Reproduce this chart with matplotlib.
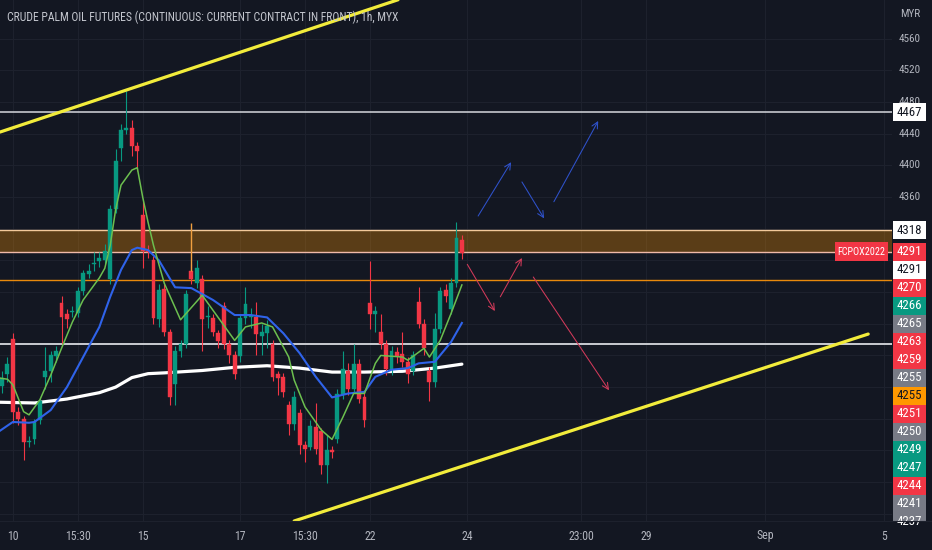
import matplotlib
matplotlib.use("Agg")
import matplotlib.pyplot as plt
from matplotlib import font_manager as fm
from matplotlib.patches import Rectangle

# ---------------- data ----------------
title = "CRUDE PALM OIL FUTURES (CONTINUOUS: CURRENT CONTRACT IN FRONT), 1h, MYX"

opens = [4121, 4137, 4181, 4089, 4080, 4051, 4054, 4079, 4133, 4140,
         4159, 4226, 4212, 4215, 4213, 4241, 4263, 4275, 4279, 4281,
         4256, 4345, 4422, 4445, 4447, 4425, 4337, 4292, 4281, 4206,
         4244, 4190, 4124, 4165, 4175, 4266, 4251, 4257, 4209, 4207,
         4188, 4223, 4174, 4161, 4159, 4207, 4209, 4209, 4184, 4188,
         4174, 4136, 4133, 4098, 4074, 4087, 4047, 4045, 4070, 4064,
         4022, 4040, 4055, 4111, 4140, 4118, 4149, 4108, 4226, 4212,
         4190, 4174, 4143, 4164, 4162, 4152, 4140, 4228, 4200, 4140,
         4127, 4193, 4242, 4218, 4251, 4306]
closes = [4131, 4149, 4089, 4080, 4051, 4052, 4076, 4102, 4140, 4161,
          4165, 4209, 4206, 4216, 4241, 4264, 4266, 4277, 4283, 4292,
          4345, 4406, 4445, 4447, 4425, 4418, 4292, 4290, 4207, 4243,
          4190, 4108, 4165, 4174, 4237, 4256, 4270, 4206, 4210, 4190,
          4178, 4174, 4161, 4137, 4207, 4225, 4210, 4187, 4190, 4197,
          4133, 4132, 4114, 4073, 4108, 4047, 4042, 4071, 4042, 4022,
          4041, 4038, 4111, 4143, 4118, 4149, 4105, 4079, 4212, 4216,
          4174, 4143, 4166, 4159, 4152, 4137, 4161, 4200, 4169, 4127,
          4193, 4241, 4235, 4251, 4308, 4289]
highs = [4140, 4158, 4188, 4095, 4083, 4058, 4080, 4106, 4171, 4166,
         4172, 4235, 4218, 4222, 4246, 4268, 4276, 4290, 4290, 4301,
         4350, 4420, 4452, 4494, 4457, 4430, 4355, 4300, 4286, 4250,
         4250, 4194, 4172, 4180, 4242, 4275, 4280, 4262, 4222, 4212,
         4192, 4227, 4180, 4165, 4212, 4247, 4220, 4228, 4200, 4205,
         4180, 4140, 4138, 4103, 4115, 4092, 4052, 4078, 4100, 4068,
         4060, 4046, 4118, 4166, 4150, 4175, 4156, 4112, 4279, 4222,
         4212, 4180, 4172, 4171, 4190, 4158, 4166, 4247, 4206, 4146,
         4214, 4246, 4250, 4258, 4328, 4312]
lows = [4112, 4127, 4075, 4072, 4028, 4044, 4048, 4074, 4118, 4126,
        4152, 4174, 4195, 4209, 4208, 4236, 4258, 4266, 4272, 4276,
        4250, 4340, 4406, 4440, 4412, 4393, 4270, 4283, 4200, 4196,
        4185, 4098, 4098, 4158, 4170, 4250, 4245, 4166, 4195, 4184,
        4170, 4168, 4150, 4130, 4152, 4200, 4195, 4160, 4160, 4170,
        4128, 4110, 4108, 4060, 4066, 4035, 4025, 4040, 4036, 4010,
        3999, 4030, 4050, 4105, 4110, 4112, 4100, 4070, 4193, 4190,
        4168, 4135, 4135, 4150, 4145, 4125, 4135, 4195, 4160, 4102,
        4120, 4188, 4228, 4212, 4246, 4282]

# moving averages (bar index, price)
ma_fast_idx = [-1, 1, 2, 4, 5, 7, 9, 11, 13, 15, 18, 19, 20, 21, 22, 24, 25, 26, 27, 28,
               30, 33, 37, 39, 43, 45, 48, 50, 53, 54, 56, 59, 61, 63, 65, 67, 69, 70,
               74, 75, 78, 79, 81, 83, 85]
ma_fast_val = [4132, 4130, 4123, 4089, 4085, 4104, 4135, 4169, 4202, 4230, 4258, 4270, 4299,
               4344, 4375, 4394, 4397, 4360, 4328, 4299, 4251, 4205, 4236, 4217, 4179, 4196,
               4201, 4196, 4158, 4129, 4095, 4066, 4054, 4082, 4112, 4112, 4150, 4160,
               4158, 4154, 4169, 4158, 4179, 4213, 4249]
ma_mid_idx = [-1, 2, 5, 6, 9, 12, 15, 18, 20, 22, 24, 25, 27, 29, 32, 35, 39, 43, 46, 49,
              52, 55, 58, 61, 64, 67, 69, 72, 75, 77, 80, 83, 85]
ma_mid_val = [4062, 4076, 4075, 4076, 4091, 4120, 4158, 4196, 4234, 4268, 4293, 4296, 4293,
              4280, 4246, 4245, 4230, 4211, 4211, 4208, 4188, 4163, 4133, 4107, 4112, 4114,
              4133, 4142, 4144, 4150, 4152, 4177, 4201]
ma_slow_idx = [-1, 6, 12, 18, 21, 24, 27, 30, 37, 43, 49, 55, 61, 67, 74, 80, 85]
ma_slow_val = [4101, 4100, 4105, 4113, 4120, 4132, 4137, 4138, 4141, 4145, 4147, 4144,
               4139, 4139, 4140, 4144, 4149]

time_tick_pos = [2, 14, 26, 44, 56, 68, 86, 107, 119, 141, 163]
time_tick_labels = ["10", "15:30", "15", "17", "15:30", "22", "24", "23:00", "29", "Sep", "5"]
price_ticks = [3960, 4000, 4040, 4080, 4120, 4160, 4200, 4240, 4280, 4320,
               4360, 4400, 4440, 4480, 4520, 4560]

level_top = 4467
zone_top, zone_bottom = 4318, 4291
level_orange = 4255
level_gray = 4175
orange_mark = (35, 4327, 4266)

upper_trend = [(-0.37, 4442), (73.2, 4609)]
lower_trend = [(54.0, 3951), (160.1, 4187)]

blue_arrows = [((88.0, 4336), (94.1, 4404)),
               ((96.1, 4379), (100.2, 4333)),
               ((102.0, 4354), (110.2, 4456))]
red_arrows = [((86.0, 4275), (91.1, 4216)),
              ((92.1, 4234), (96.1, 4283)),
              ((98.2, 4259), (112.2, 4116))]

# axis value labels (text, kind); first two sit at their price, the rest are stacked
axis_labels = [("4318", "white"), ("4291", "red"), ("4291", "white"), ("4270", "red"),
               ("4266", "green"), ("4265", "gray"), ("4263", "red"), ("4259", "red"),
               ("4255", "gray"), ("4255", "orange"), ("4251", "red"), ("4250", "gray"),
               ("4249", "green"), ("4247", "green"), ("4244", "red"), ("4241", "gray"),
               ("4237", "gray")]
symbol_label = "FCPOX2022"
currency = "MYR"

# ---------------- style ----------------
names = {f.name for f in fm.fontManager.ttflist}
FONT = "Liberation Sans Narrow" if "Liberation Sans Narrow" in names else (
    "Roboto Condensed" if "Roboto Condensed" in names else "Liberation Sans")
plt.rcParams["font.family"] = [FONT, "DejaVu Sans"]

BG = "#131722"
GRID = "#1d212d"
TXT = "#b2b5be"
UP = "#089981"
DOWN = "#f23645"
GRAYLBL = "#787b86"
BOX = {"white": ("#ffffff", "#131722"), "red": (DOWN, "#ffffff"),
       "green": (UP, "#ffffff"), "gray": (GRAYLBL, "#ffffff"),
       "orange": ("#ff9800", "#131722")}

W, H = 932, 550
PLOT_R = 892
PLOT_B = 521
fig = plt.figure(figsize=(W / 100, H / 100), dpi=100, facecolor=BG)
ax = fig.add_axes([0, (H - PLOT_B) / H, PLOT_R / W, PLOT_B / H])
ax.set_facecolor(BG)
YMIN, YMAX = 3951, 4608.7
XMIN, XMAX = -0.37, 164.5
ax.set_xlim(XMIN, XMAX)
ax.set_ylim(YMIN, YMAX)
for s in ax.spines.values():
    s.set_visible(False)
ax.set_xticks([])
ax.set_yticks([])

# grid
for p in price_ticks:
    ax.axhline(p, color=GRID, lw=0.8, zorder=0)
for t in time_tick_pos:
    ax.axvline(t, color=GRID, lw=0.8, zorder=0)

# zone & levels
ax.axhspan(zone_bottom, zone_top, color="#ff9800", alpha=0.30, lw=0, zorder=1)
ax.axhline(zone_top, color="#f3c99a", lw=1.0, zorder=2)
ax.axhline(zone_bottom, color="#efb9a8", lw=1.0, zorder=2)
ax.axhline(level_orange, color="#e8890c", lw=1.0, zorder=2)
ax.axhline(level_gray, color="#c9cbd1", lw=1.4, zorder=2)
ax.axhline(level_top, color="#d6d8dd", lw=1.1, zorder=2)

# moving averages
ax.plot(ma_slow_idx, ma_slow_val, color="#ffffff", lw=2.3, zorder=3, solid_capstyle="round")
ax.plot(ma_mid_idx, ma_mid_val, color="#2f63ea", lw=1.5, zorder=5)
ax.plot(ma_fast_idx, ma_fast_val, color="#6cbf4f", lw=1.1, zorder=6)

# candles
bw = 0.72
for i, (o, c, h, l) in enumerate(zip(opens, closes, highs, lows)):
    col = UP if c >= o else DOWN
    ax.vlines(i, l, h, color=col, lw=0.8, zorder=4)
    lo = min(o, c)
    ht = max(abs(c - o), 1.4)
    ax.add_patch(Rectangle((i - bw / 2, lo), bw, ht, facecolor=col, edgecolor=col,
                           lw=0.3, zorder=4))

ax.vlines(orange_mark[0], orange_mark[2], orange_mark[1], color="#f0a040", lw=1.0, zorder=4)

# trend lines
ax.plot(*zip(*upper_trend), color="#f2ec3b", lw=2.3, zorder=7, solid_capstyle="round")
ax.plot(*zip(*lower_trend), color="#f2ec3b", lw=2.3, zorder=7, solid_capstyle="round")

# arrows
for (s, e) in blue_arrows:
    ax.annotate("", xy=e, xytext=s,
                arrowprops=dict(arrowstyle="->,head_length=0.45,head_width=0.22",
                                color="#2f52cc", lw=0.75, shrinkA=0, shrinkB=0), zorder=8)
for (s, e) in red_arrows:
    ax.annotate("", xy=e, xytext=s,
                arrowprops=dict(arrowstyle="->,head_length=0.45,head_width=0.22",
                                color="#d23a5a", lw=0.75, shrinkA=0, shrinkB=0), zorder=8)

# time labels
for t, lab in zip(time_tick_pos, time_tick_labels):
    ax.text(t, -15 / PLOT_B, lab, transform=ax.get_xaxis_transform(), ha="center",
            va="center", color=TXT, fontsize=8.5, clip_on=False)

# bottom separator
fig.add_artist(plt.Line2D([0, 1], [(H - PLOT_B) / H] * 2, color="#1d212d", lw=0.8))

# ---------------- price axis ----------------
ax2 = fig.add_axes([PLOT_R / W, (H - PLOT_B) / H, (W - PLOT_R) / W, PLOT_B / H])
ax2.set_facecolor(BG)
ax2.set_xlim(0, W - PLOT_R)
ax2.set_ylim(PLOT_B, 0)  # pixels from top
ax2.axis("off")


def ypix(p):
    return (YMAX - p) / (YMAX - YMIN) * PLOT_B


BOXH = 18
BX0, BX1 = 1, 34

# tick labels that are not hidden under the value boxes
first_box_top = ypix(zone_top) - BOXH / 2
for p in price_ticks:
    if ypix(p) + 5 < first_box_top:
        ax2.text(18, ypix(p), str(p), ha="center", va="center", color=TXT, fontsize=8,
                 zorder=1, clip_on=True)
ax2.text(18, 14, currency, ha="center", va="center", color=TXT, fontsize=8)


def draw_box(yc, text, kind):
    bg, fg = BOX[kind]
    ax2.add_patch(Rectangle((BX0, yc - BOXH / 2), BX1 - BX0, BOXH, facecolor=bg,
                            edgecolor="none", zorder=3))
    ax2.text((BX0 + BX1) / 2, yc, text, ha="center", va="center", color=fg,
             fontsize=9.3, zorder=4)


draw_box(ypix(level_top), str(level_top), "white")
draw_box(ypix(zone_top), axis_labels[0][0], axis_labels[0][1])
y0 = ypix(zone_bottom)
for k, (txt, kind) in enumerate(axis_labels[1:]):
    draw_box(y0 + k * BOXH, txt, kind)

# symbol label in the plot area
sy = 1 - ypix(zone_bottom) / H
fig.add_artist(Rectangle((835 / W, sy - 9.5 / H), 53 / W, 19 / H, transform=fig.transFigure,
                         facecolor=DOWN, edgecolor="none", zorder=10))
fig.text(861.5 / W, sy, symbol_label, ha="center", va="center", color="#ffffff",
         fontsize=7.3, zorder=11)

# title, fitted to its width in the reference
tt = fig.text(7 / W, 1 - 17 / H, title, ha="left", va="center", color="#c3c6ce",
              fontsize=9, zorder=12)
r = fig.canvas.get_renderer()
wpx = tt.get_window_extent(renderer=r).width
tt.set_fontsize(9 * 391 / wpx)

fig.savefig("out.png", dpi=100, facecolor=BG)
